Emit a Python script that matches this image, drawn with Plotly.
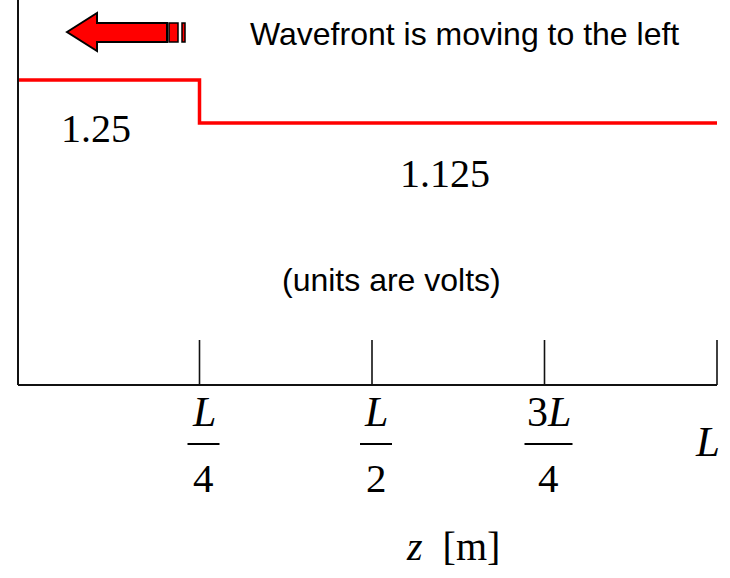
import plotly.graph_objects as go

# Voltage along the line after the reflected wave has reached z = L/4
z_points = [0.0, 0.25, 1.0]          # in units of L
v_points = [1.25, 1.125, 1.125]      # volts
front_pos = 0.25                     # wavefront location (units of L)

tick_vals = [0.25, 0.5, 0.75, 1.0]
tick_nums = ["<i>L</i>", "<i>L</i>", "3<i>L</i>", None]
tick_dens = ["4", "2", "4", None]

W, H = 730, 578
# pixel <-> data calibration of the sketch
PX_PER_L, Z0_PX = 690.0, 27.0
PX_PER_V, V125_PX = 344.0, 80.0

def zx(px):
    return (px - Z0_PX) / PX_PER_L

def vy(py):
    return 1.25 - (py - V125_PX) / PX_PER_V

origin_z = zx(18)
base_v = vy(385)
SERIF = "Liberation Serif, Times New Roman, serif"
SANS = "Liberation Sans, Arial, sans-serif"

fig = go.Figure()

# voltage profile (step)
fig.add_trace(go.Scatter(
    x=[origin_z, front_pos, front_pos, z_points[-1]],
    y=[v_points[0], v_points[0], v_points[1], v_points[2]],
    mode="lines", line=dict(color="#ff0000", width=3.5),
    hoverinfo="skip", showlegend=False))

shapes = []
# axes
shapes.append(dict(type="line", xref="x", yref="y", x0=origin_z, x1=origin_z,
                   y0=vy(0), y1=base_v, line=dict(color="#111111", width=2)))
shapes.append(dict(type="line", xref="x", yref="y", x0=origin_z, x1=tick_vals[-1],
                   y0=base_v, y1=base_v, line=dict(color="#111111", width=2)))
# tick marks
for t in tick_vals:
    shapes.append(dict(type="line", xref="x", yref="y", x0=t, x1=t,
                       y0=base_v, y1=vy(340), line=dict(color="#111111", width=1.6)))

annotations = []
# fractional tick labels
for t, num, den in zip(tick_vals, tick_nums, tick_dens):
    if num is None:
        annotations.append(dict(x=t, y=vy(441), xref="x", yref="y", text="<i>L</i>",
                                showarrow=False, xshift=-10,
                                font=dict(family=SERIF, size=43, color="black")))
        continue
    annotations.append(dict(x=t, y=vy(412), xref="x", yref="y", text=num, showarrow=False,
                            xshift=4, font=dict(family=SERIF, size=42, color="black")))
    annotations.append(dict(x=t, y=vy(478), xref="x", yref="y", text=den, showarrow=False,
                            xshift=4, font=dict(family=SERIF, size=41, color="black")))
    half = 24 if num.startswith("3") else 16
    shapes.append(dict(type="line", xref="x", yref="y",
                       x0=t + (4 - half) / PX_PER_L, x1=t + (4 + half) / PX_PER_L,
                       y0=vy(444), y1=vy(444), line=dict(color="black", width=2)))

# value labels
annotations.append(dict(x=zx(96), y=vy(128), xref="x", yref="y", text=f"{v_points[0]:g}",
                        showarrow=False, font=dict(family=SERIF, size=40, color="black")))
annotations.append(dict(x=zx(445), y=vy(173), xref="x", yref="y", text=f"{v_points[1]:g}",
                        showarrow=False, font=dict(family=SERIF, size=40, color="black")))
annotations.append(dict(x=zx(391), y=vy(280), xref="x", yref="y", text="(units are volts)",
                        showarrow=False, font=dict(family=SANS, size=32, color="black")))
annotations.append(dict(x=zx(464), y=vy(34), xref="x", yref="y",
                        text="Wavefront is moving to the left",
                        showarrow=False, font=dict(family=SANS, size=32, color="black")))
annotations.append(dict(x=zx(453), y=vy(546), xref="x", yref="y",
                        text="<i>z</i>  [m]",
                        showarrow=False, font=dict(family=SERIF, size=40, color="black")))

# arrow showing direction of travel
arrow_px = [(67, 32), (97, 13), (97, 23), (167, 23), (167, 42), (97, 42), (97, 51)]
path = "M " + " L ".join(f"{zx(px)},{vy(py)}" for px, py in arrow_px) + " Z"
shapes.append(dict(type="path", xref="x", yref="y", path=path,
                   fillcolor="#ff0000", line=dict(color="black", width=2)))
for a, b in [(169, 178), (182, 185)]:
    shapes.append(dict(type="rect", xref="x", yref="y", x0=zx(a), x1=zx(b),
                       y0=vy(23), y1=vy(42), fillcolor="#ff0000",
                       line=dict(color="black", width=1.5)))

fig.update_layout(
    width=W, height=H, margin=dict(l=0, r=0, t=0, b=0),
    paper_bgcolor="white", plot_bgcolor="white",
    xaxis=dict(range=[zx(0), zx(W)], visible=False, fixedrange=True),
    yaxis=dict(range=[vy(H), vy(0)], visible=False, fixedrange=True),
    shapes=shapes, annotations=annotations, showlegend=False,
)

fig.write_html("out.html")
